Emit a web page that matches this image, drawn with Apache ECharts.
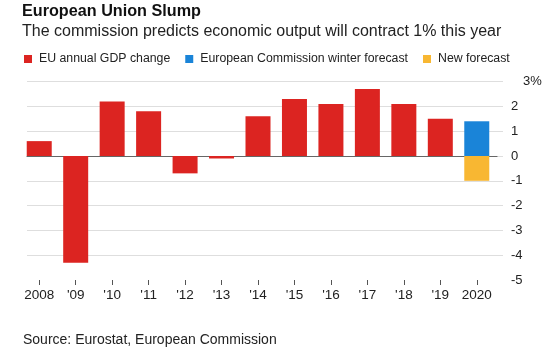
<!DOCTYPE html>
<html>
<head>
<meta charset="utf-8">
<script src="https://cdn.jsdelivr.net/npm/echarts@6/dist/echarts.min.js"></script>
<style>
html,body{margin:0;padding:0;background:#fff;}
#chart{width:550px;height:358px;}
</style>
</head>
<body>
<div id="chart"></div>
<script>
var categories = ['2008', "'09", "'10", "'11", "'12", "'13", "'14", "'15", "'16", "'17", "'18", "'19", '2020'];
var gdpChange = [0.6, -4.3, 2.2, 1.8, -0.7, -0.1, 1.6, 2.3, 2.1, 2.7, 2.1, 1.5, null];
var winterForecast = [null, null, null, null, null, null, null, null, null, null, null, null, 1.4];
var newForecast = [null, null, null, null, null, null, null, null, null, null, null, null, -1.0];
var yMin = -5, yMax = 3, yStep = 1;
var seriesNames = ['EU annual GDP change', 'European Commission winter forecast', 'New forecast'];
var titleText = 'European Union Slump';
var subtitleText = 'The commission predicts economic output will contract 1% this year';
var sourceText = 'Source: Eurostat, European Commission';

var FONT = '"Liberation Sans", Arial, Helvetica, sans-serif';
var TXT = '#222';
var chart = echarts.init(document.getElementById('chart'), null, {renderer: 'canvas'});

var splitColors = [];
for (var v = yMin; v <= yMax; v += yStep) splitColors.push(v === yMin ? 'rgba(0,0,0,0)' : '#dedede');

var option = {
  backgroundColor: '#fff',
  animation: false,
  textStyle: {fontFamily: FONT},
  title: [
    {text: titleText, left: 22, top: 4, padding: 0,
     textStyle: {fontFamily: FONT, fontSize: 16.2, fontWeight: 'bold', color: '#111'}},
    {text: subtitleText, left: 22, top: 24, padding: 0,
     textStyle: {fontFamily: FONT, fontSize: 16, fontWeight: 'normal', color: TXT}},
    {text: sourceText, left: 23, top: 333, padding: 0,
     textStyle: {fontFamily: FONT, fontSize: 14, fontWeight: 'normal', color: TXT}}
  ],
  legend: {
    left: 24, top: 53, padding: 0,
    itemWidth: 8, itemHeight: 8, itemGap: 15, icon: 'rect',
    textStyle: {fontFamily: FONT, fontSize: 12.3, color: TXT, padding: [0, 0, 0, 2]},
    data: seriesNames
  },
  grid: [
    {left: 27, right: 47, top: 81.6, bottom: 78},
    {left: 21, right: 55, top: 81.6, bottom: 78},
    {left: 27, right: 53, top: 81.6, bottom: 78}
  ],
  xAxis: [
    {gridIndex: 0, type: 'value', show: false, min: 0, max: 1},
    {gridIndex: 1, type: 'category', data: categories, position: 'bottom',
     axisLine: {show: false, onZero: false},
     axisTick: {show: true, alignWithLabel: true, length: 5, lineStyle: {color: '#555', width: 1}},
     axisLabel: {fontFamily: FONT, fontSize: 13.5, color: TXT, margin: 8, interval: 0},
     splitLine: {show: false}},
    {gridIndex: 2, type: 'value', min: 0, max: 1,
     axisLine: {show: true, onZero: true, lineStyle: {color: '#666', width: 1.2}},
     axisTick: {show: false}, axisLabel: {show: false}, splitLine: {show: false}}
  ],
  yAxis: [
    {gridIndex: 0, type: 'value', position: 'right', min: yMin, max: yMax, interval: yStep,
     axisLine: {show: false}, axisTick: {show: false},
     axisLabel: {fontFamily: FONT, fontSize: 13, color: TXT, margin: 8, align: 'left',
       formatter: function (val) { return val === yMax ? '{p|' + val + '%}' : String(val); },
       rich: {p: {fontFamily: FONT, fontSize: 13, color: TXT, padding: [0, 0, 0, 12]}}},
     splitLine: {show: true, lineStyle: {color: splitColors, width: 1.2}}},
    {gridIndex: 1, type: 'value', min: yMin, max: yMax, interval: yStep, show: false},
    {gridIndex: 2, type: 'value', min: yMin, max: yMax, interval: yStep, show: false}
  ],
  series: [
    {name: seriesNames[0], type: 'bar', xAxisIndex: 1, yAxisIndex: 1, stack: 'g', barWidth: 25,
     itemStyle: {color: '#dc2421'}, data: gdpChange, z: 3},
    {name: seriesNames[1], type: 'bar', xAxisIndex: 1, yAxisIndex: 1, stack: 'g', barWidth: 25,
     itemStyle: {color: '#1a84d8'}, data: winterForecast, z: 3},
    {name: seriesNames[2], type: 'bar', xAxisIndex: 1, yAxisIndex: 1, stack: 'g', barWidth: 25,
     itemStyle: {color: '#f8b732'}, data: newForecast, z: 3}
  ]
};
chart.setOption(option);
</script>
</body>
</html>
